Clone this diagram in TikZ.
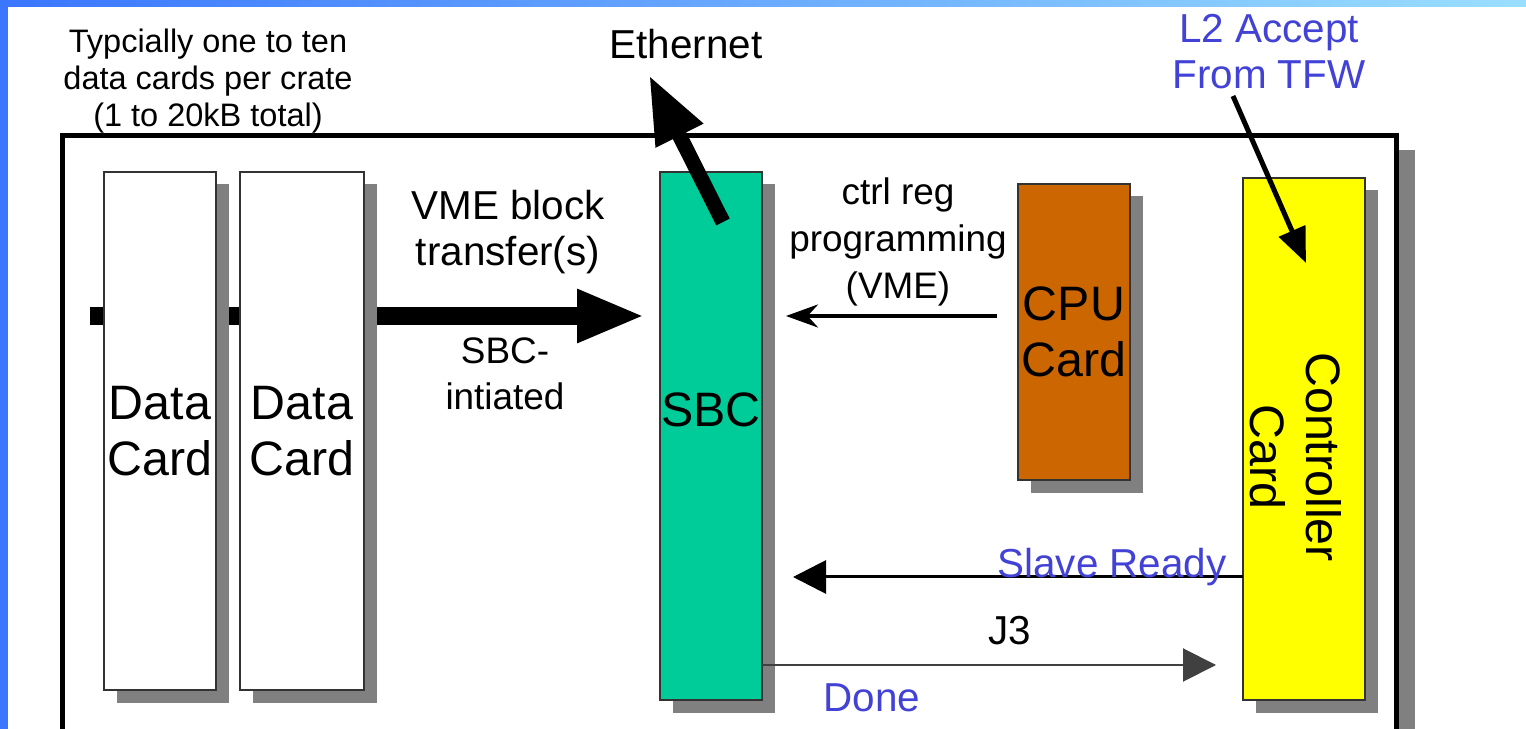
\documentclass[tikz,border=0pt]{standalone}
\usepackage{fontspec}
\setmainfont{Liberation Sans}
\usepackage{tikz}
\usetikzlibrary{arrows.meta, shadows}

\definecolor{sbc_green}{HTML}{00CC99}
\definecolor{cpu_orange}{HTML}{CC6600}
\definecolor{ctrl_yellow}{HTML}{FFFF00}
\definecolor{shade_gray}{HTML}{808080}
\definecolor{label_blue}{HTML}{4242D6}
\definecolor{frame_blue}{HTML}{3A76FF}
\definecolor{frame_cyan}{HTML}{9ADFFF}

\newcommand{\notefont}{\fontsize{18.5}{21}\selectfont}
\newcommand{\smalllabelfont}{\fontsize{21}{26.5}\selectfont}
\newcommand{\labelfont}{\fontsize{23}{26.5}\selectfont}
\newcommand{\cardfont}{\fontsize{27.5}{32}\selectfont}

\tikzset{
    card/.style={draw=black!80, line width=0.3mm, inner sep=0pt, outer sep=0pt,
        align=center, font=\cardfont,
        drop shadow={shadow xshift=2.5mm, shadow yshift=-2.5mm,
            fill=shade_gray, opacity=1}},
    crate/.style={draw=black, fill=white, line width=1mm,
        drop shadow={shadow xshift=3.8mm, shadow yshift=-2.8mm,
            fill=shade_gray, opacity=1}},
    label/.style={align=center, font=\labelfont, inner sep=0pt},
    fat arrow/.style={-{Triangle[length=13.6mm, width=9.8mm]}},
    thin arrow/.style={line width=0.6mm, -{Triangle[length=6.6mm, width=6.6mm]}}
}

\begin{document}
\begin{tikzpicture}[line join=miter]

% Global scale: one unit is one pixel of the slide, y pointing down
\begin{scope}[x=0.2mm, y=-0.2mm]

\useasboundingbox (0,0) rectangle (1526,729);
\clip (0,0) rectangle (1526,729);

% Crate outline, runs off the bottom
\draw[crate] (62,136) rectangle (1396,800);

% Bus behind the data cards, ending in the block transfer arrow
\coordinate (bus-start) at (90,316);
\coordinate (bus-end)   at (645,316);
\draw[fat arrow, line width=3.5mm] (bus-start) -- (bus-end);

% Cards in the crate
\node[card, fill=white, minimum width=22.4mm, minimum height=103.6mm]
    (data-a) at (160,431) {Data\\Card};
\node[card, fill=white, minimum width=24.8mm, minimum height=103.6mm]
    (data-b) at (302,431) {Data\\Card};
\node[card, fill=sbc_green, minimum width=20.4mm, minimum height=105.6mm]
    (sbc) at (711,436) {};
\node[font=\cardfont, inner sep=0pt] (sbc-label) at (711,410) {SBC};
\node[card, fill=cpu_orange, minimum width=22.4mm, minimum height=59.2mm]
    (cpu) at (1074,332) {CPU\\Card};
\node[card, fill=ctrl_yellow, minimum width=24.4mm, minimum height=104.4mm]
    (ctrl) at (1304,439) {};
\node[font=\cardfont, align=center, inner sep=0pt, rotate=-90]
    (ctrl-label) at (1296,457) {Controller\\Card};

% Ethernet out of the SBC
\coordinate (eth-tail) at (723,222);
\coordinate (eth-tip)  at (649,75);
\draw[fat arrow, line width=3mm] (eth-tail) -- (eth-tip);

% L2 accept into the controller
\coordinate (l2-tail) at (1233,96);
\coordinate (l2-tip)  at (1306,263);
\draw[line width=1mm, -{Triangle[length=7mm, width=5.6mm]}] (l2-tail) -- (l2-tip);

% CPU programs the SBC control registers
\draw[line width=0.8mm, -{Stealth[length=6.4mm, width=4.6mm]},
    shorten <=4.2mm, shorten >=4.8mm]
    (cpu.west |- bus-end) -- (sbc.east |- bus-end);

% J3 handshake
\draw[thin arrow, shorten >=6.2mm]
    (ctrl.west |- 0,577) -- (sbc.east |- 0,577);
\draw[thin arrow, line width=0.4mm, draw=black!75, shorten >=5.4mm]
    (sbc.east |- 0,665) -- (ctrl.west |- 0,665);

% Labels
\node[label, font=\notefont] (note) at (208,81)
    {Typcially one to ten\\data cards per crate\\(1 to 20kB total)};
\node[label] (eth-label) at (686,44.5) {Ethernet};
\node[label, text=label_blue] (l2-label) at (1269,51.5) {L2 Accept\\From TFW};
\node[label] (vme-label) at (508,232) {VME block\\transfer(s)};
\node[label, font=\smalllabelfont] (init-label) at (505,374) {SBC-\\intiated};
\node[label, font=\smalllabelfont] (reg-label) at (898,242)
    {ctrl reg\\programming\\(VME)};
\node[label, text=label_blue] (ready-label) at (1112,567) {Slave Ready};
\node[label] (j3-label) at (1010,631) {J3};
\node[label, text=label_blue] (done-label) at (872,698) {Done};

% Slide frame
\fill[frame_blue] (0,0) rectangle (8,729);
\shade[left color=frame_blue, right color=frame_cyan] (0,0) rectangle (1526,7);

\end{scope}
\end{tikzpicture}
\end{document}
